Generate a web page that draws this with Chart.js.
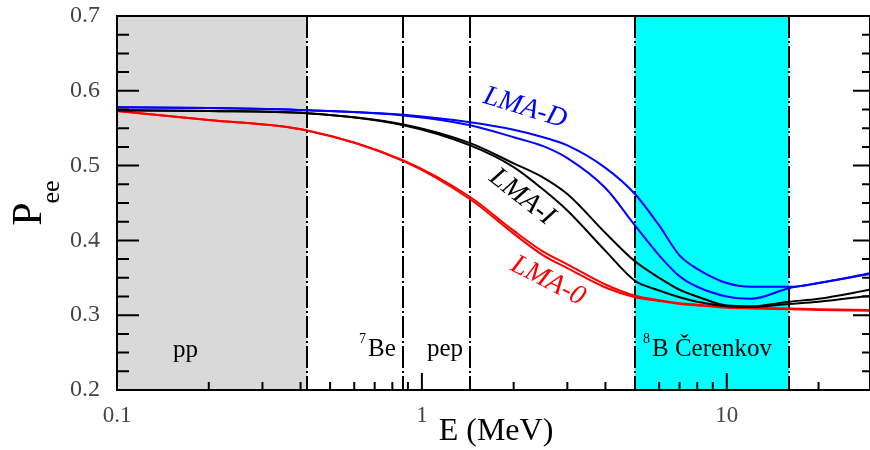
<!DOCTYPE html>
<html>
<head>
<meta charset="utf-8">
<script src="https://cdn.jsdelivr.net/npm/chart.js@4"></script>
<style>
  html, body { margin: 0; padding: 0; background: #fff; }
  #wrap { width: 870px; height: 450px; }
</style>
</head>
<body>
<div id="wrap"><canvas id="pee"></canvas></div>
<script>
const energy = [0.1, 0.2, 0.42, 0.87, 1.44, 2, 2.5, 3, 4, 5, 6, 7, 8, 10, 12, 16, 20, 29.5];
const lmaD1 = [0.578, 0.577, 0.574, 0.568, 0.558, 0.548, 0.538, 0.527, 0.497, 0.462, 0.420, 0.380, 0.362, 0.343, 0.338, 0.338, 0.343, 0.356];
const lmaD2 = [0.578, 0.577, 0.574, 0.567, 0.554, 0.538, 0.526, 0.510, 0.470, 0.420, 0.380, 0.352, 0.338, 0.325, 0.322, 0.336, 0.343, 0.355];
const lmaI1 = [0.574, 0.573, 0.570, 0.555, 0.530, 0.503, 0.484, 0.462, 0.410, 0.372, 0.350, 0.334, 0.325, 0.313, 0.312, 0.318, 0.322, 0.334];
const lmaI2 = [0.574, 0.573, 0.570, 0.554, 0.527, 0.498, 0.468, 0.440, 0.386, 0.346, 0.333, 0.324, 0.318, 0.312, 0.311, 0.315, 0.318, 0.326];
const lma01 = [0.573, 0.561, 0.547, 0.507, 0.458, 0.413, 0.385, 0.368, 0.341, 0.326, 0.320, 0.316, 0.314, 0.311, 0.310, 0.309, 0.308, 0.307];
const lma02 = [0.573, 0.561, 0.547, 0.506, 0.455, 0.409, 0.380, 0.363, 0.337, 0.324, 0.319, 0.315, 0.313, 0.310, 0.309, 0.308, 0.307, 0.306];

// detector windows / thresholds (MeV)
const ppRegion = [0.1, 0.42];
const cerenkovRegion = [5, 16];
const thresholds = [0.42, 0.87, 1.44, 5, 16];
const xLabels = [0.1, 1, 10];

const serif = "'Liberation Serif', 'DejaVu Serif', serif";

function pts(ys) {
  return energy.map((e, i) => ({ x: e, y: ys[i] }));
}

function series(ys, color) {
  return {
    data: pts(ys),
    borderColor: color,
    borderWidth: 2,
    pointRadius: 0,
    fill: false,
    cubicInterpolationMode: 'monotone'
  };
}

const decor = {
  id: 'decor',
  beforeDatasetsDraw(chart) {
    const { ctx, chartArea: a, scales: { x, y } } = chart;
    ctx.save();
    ctx.fillStyle = '#d9d9d9';
    ctx.fillRect(x.getPixelForValue(ppRegion[0]), a.top, x.getPixelForValue(ppRegion[1]) - x.getPixelForValue(ppRegion[0]), a.bottom - a.top);
    ctx.fillStyle = '#00ffff';
    ctx.fillRect(x.getPixelForValue(cerenkovRegion[0]), a.top, x.getPixelForValue(cerenkovRegion[1]) - x.getPixelForValue(cerenkovRegion[0]), a.bottom - a.top);
    ctx.strokeStyle = '#000';
    ctx.lineWidth = 2;
    ctx.setLineDash([22, 3, 2, 3]);
    thresholds.forEach(t => {
      const px = Math.round(x.getPixelForValue(t));
      ctx.beginPath();
      ctx.moveTo(px, a.top);
      ctx.lineTo(px, a.bottom);
      ctx.stroke();
    });
    ctx.restore();
  },
  afterDatasetsDraw(chart) {
    const { ctx, chartArea: a, scales: { x, y } } = chart;
    ctx.save();
    ctx.strokeStyle = '#000';
    ctx.lineWidth = 2;
    ctx.strokeRect(a.left, a.top, a.right - a.left, a.bottom - a.top);
    ctx.beginPath();
    // y ticks, left and right
    for (let i = 0; i <= 20; i++) {
      const v = 0.2 + i * 0.025;
      const py = y.getPixelForValue(v);
      const major = i % 4 === 0;
      ctx.moveTo(a.left, py); ctx.lineTo(a.left + (major ? 22 : 12), py);
      ctx.moveTo(a.right, py); ctx.lineTo(a.right - (major ? 17 : 8), py);
    }
    // x ticks (log)
    [0.1, 1, 10].forEach(d => {
      for (let m = 1; m <= 9; m++) {
        const v = d * m;
        if (v <= x.min * 1.001 || v > x.max) continue;
        const px = x.getPixelForValue(v);
        ctx.moveTo(px, a.bottom); ctx.lineTo(px, a.bottom - (m === 1 ? 17 : 8));
      }
    });
    ctx.stroke();
    ctx.restore();
  },
  afterDraw(chart) {
    const { ctx } = chart;
    ctx.save();
    ctx.fillStyle = '#000';
    ctx.textBaseline = 'alphabetic';
    // region labels
    ctx.font = '25px ' + serif;
    ctx.fillText('pp', 173, 357);
    ctx.fillText('Be', 368, 356);
    ctx.fillText('pep', 427, 356);
    ctx.fillText('B Čerenkov', 652, 356);
    ctx.font = '14px ' + serif;
    ctx.fillText('7', 359, 343);
    ctx.fillText('8', 643, 343);
    // curve labels
    const lab = (txt, cx, cy, ang, col) => {
      ctx.save();
      ctx.translate(cx, cy);
      ctx.rotate(ang * Math.PI / 180);
      ctx.fillStyle = col;
      ctx.font = 'italic 28px ' + serif;
      ctx.textAlign = 'center';
      ctx.textBaseline = 'middle';
      ctx.fillText(txt, 0, 0);
      ctx.restore();
    };
    lab('LMA-D', 525, 108, 17, '#0000ff');
    lab('LMA-I', 522, 197, 38, '#000');
    lab('LMA-0', 548, 281, 27, '#ff0000');
    // axis titles
    ctx.font = '32px ' + serif;
    ctx.textAlign = 'center';
    ctx.textBaseline = 'middle';
    ctx.fillText('E (MeV)', 496, 432);
    ctx.save();
    ctx.translate(30, 214);
    ctx.rotate(-Math.PI / 2);
    ctx.font = '42px ' + serif;
    ctx.fillText('P', 0, 0);
    ctx.font = '26px ' + serif;
    ctx.fillText('ee', 22, 22);
    ctx.restore();
    ctx.restore();
  }
};

new Chart(document.getElementById('pee'), {
  type: 'line',
  data: {
    datasets: [
      series(lmaD1, '#0000ff'),
      series(lmaD2, '#0000ff'),
      series(lmaI1, '#000000'),
      series(lmaI2, '#000000'),
      series(lma01, '#ff0000'),
      series(lma02, '#ff0000')
    ]
  },
  options: {
    responsive: true,
    maintainAspectRatio: false,
    animation: false,
    layout: { padding: { top: 16, right: 0, left: 0, bottom: 0 } },
    plugins: { legend: { display: false }, tooltip: { enabled: false } },
    scales: {
      x: {
        type: 'logarithmic',
        min: 0.1,
        max: 29.5,
        grid: { display: false },
        border: { display: false },
        afterFit: s => { s.height = 60; s.paddingLeft = 0; s.paddingRight = 0; },
        ticks: {
          autoSkip: false,
          maxRotation: 0,
          padding: 4,
          color: '#444',
          font: { family: serif, size: 23 },
          callback: v => {
            const hit = xLabels.find(l => Math.abs(Math.log10(v) - Math.log10(l)) < 1e-6);
            return hit === undefined ? '' : String(hit);
          }
        }
      },
      y: {
        min: 0.2,
        max: 0.7,
        grid: { display: false },
        border: { display: false },
        afterFit: s => { s.width = 117; s.paddingTop = 0; s.paddingBottom = 0; },
        ticks: {
          stepSize: 0.1,
          padding: 9,
          color: '#444',
          font: { family: serif, size: 24 },
          callback: v => v.toFixed(1)
        }
      }
    }
  },
  plugins: [decor]
});
</script>
</body>
</html>
